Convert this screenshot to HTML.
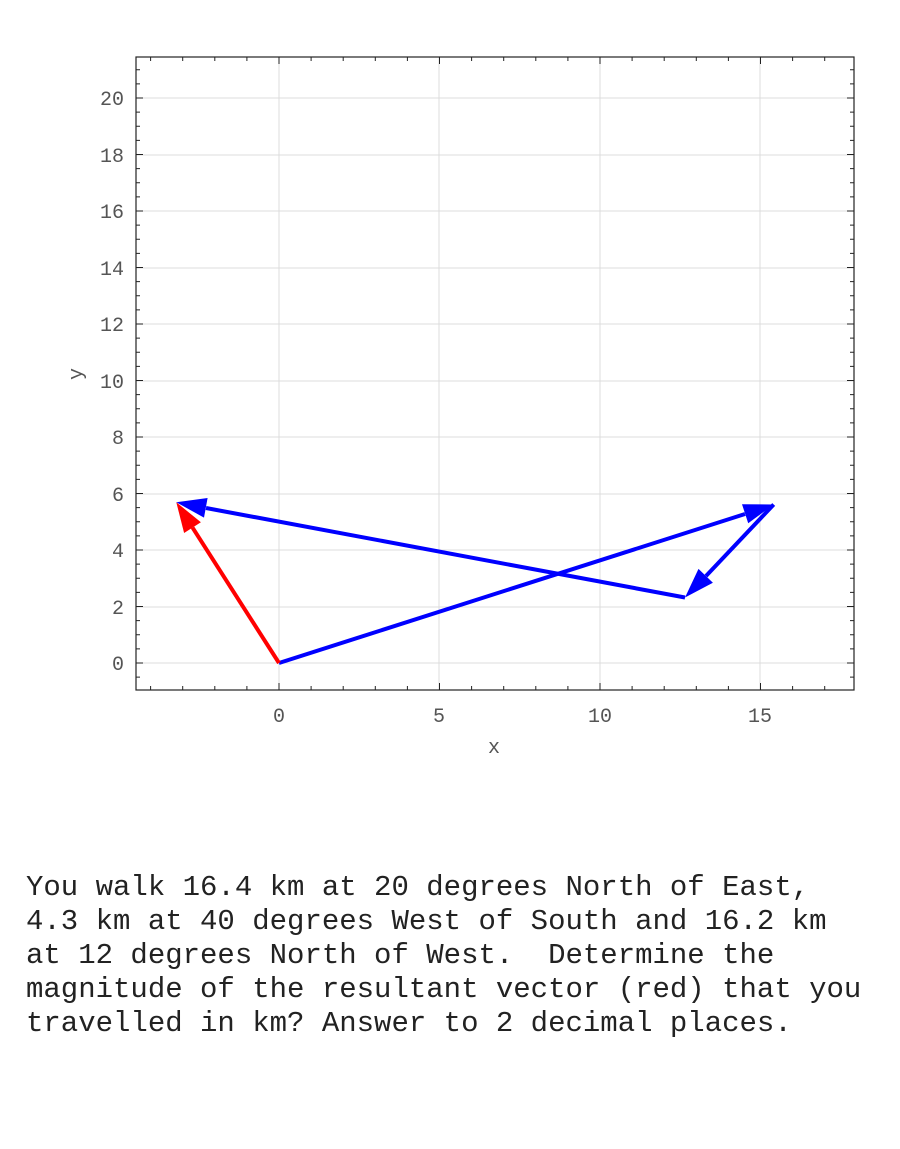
<!DOCTYPE html>
<html><head><style>
body{margin:0;background:#fff;width:900px;height:1149px;overflow:hidden}
.t{position:absolute;left:26px;top:871px;font-family:"Liberation Mono",monospace;font-size:29px;line-height:34px;color:#222;white-space:pre}
</style></head><body>
<svg width="900" height="860" style="position:absolute;left:0;top:0" font-family="Liberation Mono, monospace">
<g stroke="#dcdcdc" stroke-width="1">
<line x1="279" y1="57" x2="279" y2="690"/><line x1="439" y1="57" x2="439" y2="690"/><line x1="600" y1="57" x2="600" y2="690"/><line x1="760" y1="57" x2="760" y2="690"/>
<line x1="136" y1="663" x2="854" y2="663"/><line x1="136" y1="607" x2="854" y2="607"/><line x1="136" y1="550" x2="854" y2="550"/><line x1="136" y1="494" x2="854" y2="494"/><line x1="136" y1="437" x2="854" y2="437"/><line x1="136" y1="381" x2="854" y2="381"/><line x1="136" y1="324" x2="854" y2="324"/><line x1="136" y1="268" x2="854" y2="268"/><line x1="136" y1="211" x2="854" y2="211"/><line x1="136" y1="155" x2="854" y2="155"/><line x1="136" y1="98" x2="854" y2="98"/>
</g>
<g id="ticks" stroke="#222" stroke-width="1"></g>
<rect x="136" y="57" width="718" height="633" fill="none" stroke="#222" stroke-width="1.2"/>
<g fill="#555" font-size="20">
<text x="279" y="722" text-anchor="middle">0</text><text x="439" y="722" text-anchor="middle">5</text><text x="600" y="722" text-anchor="middle">10</text><text x="760" y="722" text-anchor="middle">15</text>
<g text-anchor="end"><text x="124" y="670">0</text><text x="124" y="614">2</text><text x="124" y="557">4</text><text x="124" y="501">6</text><text x="124" y="444">8</text><text x="124" y="388">10</text><text x="124" y="331">12</text><text x="124" y="275">14</text><text x="124" y="218">16</text><text x="124" y="162">18</text><text x="124" y="105">20</text></g>
<text x="494" y="753" text-anchor="middle">x</text>
<text x="0" y="0" text-anchor="middle" transform="translate(82,374) rotate(-90)">y</text>
</g>
<g stroke="#0000ff" stroke-width="4" fill="#0000ff">
<line x1="279" y1="663" x2="745" y2="514"/><polygon stroke="none" points="773.7,504.5 748.2,523.2 742,504.2"/>
<line x1="773.7" y1="504.5" x2="706" y2="576"/><polygon stroke="none" points="685,597.5 712.9,582.7 698.5,568.9"/>
<line x1="685" y1="597.5" x2="206" y2="508"/><polygon stroke="none" points="176.3,502.3 207.6,498 204,517.6"/>
</g>
<g stroke="#ff0000" stroke-width="4" fill="#ff0000">
<line x1="279" y1="663" x2="192.5" y2="527.6"/><polygon stroke="none" points="176.3,502.3 200.9,522.2 184.1,533"/>
</g>
</svg>
<div class="t">You walk 16.4 km at 20 degrees North of East,
4.3 km at 40 degrees West of South and 16.2 km
at 12 degrees North of West.  Determine the
magnitude of the resultant vector (red) that you
travelled in km? Answer to 2 decimal places.</div>
<script>
var g=document.getElementById('ticks'),s='';
for(var i=-4;i<=18;i++){var x=279+i*32.1;if(x<137||x>853)continue;var L=(i%5==0)?7:4;
s+='<line x1="'+x+'" y1="690" x2="'+x+'" y2="'+(690-L)+'"/><line x1="'+x+'" y1="57" x2="'+x+'" y2="'+(57+L)+'"/>';}
for(var j=-2;j<=43;j++){var y=663-j*14.125;if(y<58||y>689)continue;var L=(j%4==0)?7:4;
s+='<line x1="136" y1="'+y+'" x2="'+(136+L)+'" y2="'+y+'"/><line x1="854" y1="'+y+'" x2="'+(854-L)+'" y2="'+y+'"/>';}
g.innerHTML=s;
</script>
</body></html>
